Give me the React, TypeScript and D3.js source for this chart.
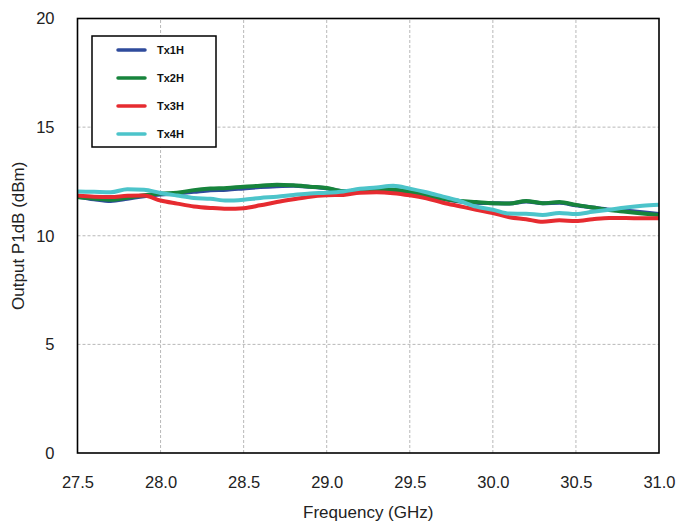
import React, { useEffect, useRef } from 'react';
import * as d3 from 'd3';

const WIDTH = 680;
const HEIGHT = 525;

// frequency points (GHz)
const freqs = [
  27.5, 27.6, 27.7, 27.8, 27.9, 28.0, 28.1, 28.2, 28.3, 28.4, 28.5, 28.6,
  28.7, 28.8, 28.9, 29.0, 29.1, 29.2, 29.3, 29.4, 29.5, 29.6, 29.7, 29.8,
  29.9, 30.0, 30.1, 30.2, 30.3, 30.4, 30.5, 30.6, 30.7, 30.8, 30.9, 31.0,
];

const tx1H = [
  11.8, 11.68, 11.6, 11.7, 11.82, 11.9, 11.95, 12.02, 12.1, 12.12, 12.18, 12.24,
  12.28, 12.3, 12.25, 12.18, 12.05, 12.1, 12.12, 12.12, 12.0, 11.85, 11.7, 11.58,
  11.52, 11.5, 11.48, 11.58, 11.5, 11.52, 11.4, 11.3, 11.2, 11.15, 11.08, 11.0,
];
const tx2H = [
  11.78, 11.72, 11.66, 11.75, 11.86, 11.94, 11.98, 12.1, 12.17, 12.2, 12.26, 12.3,
  12.35, 12.32, 12.26, 12.2, 12.05, 12.1, 12.12, 12.12, 12.02, 11.86, 11.7, 11.6,
  11.55, 11.5, 11.48, 11.6, 11.5, 11.55, 11.42, 11.3, 11.18, 11.1, 11.02, 10.95,
];
const tx3H = [
  11.85, 11.8, 11.78, 11.84, 11.85, 11.62, 11.48, 11.35, 11.28, 11.24, 11.27, 11.4,
  11.55, 11.68, 11.8, 11.86, 11.88, 11.98, 12.0, 11.96, 11.86, 11.72, 11.52, 11.36,
  11.2, 11.05, 10.85, 10.76, 10.64, 10.71, 10.68, 10.76, 10.82, 10.82, 10.8, 10.8,
];
const tx4H = [
  12.04, 12.02, 12.0, 12.14, 12.12, 11.97, 11.85, 11.74, 11.7, 11.62, 11.66, 11.74,
  11.8, 11.88, 11.95, 11.98, 12.04, 12.16, 12.22, 12.3, 12.17, 12.0, 11.8, 11.6,
  11.34, 11.2, 11.02, 11.01, 10.96, 11.05, 11.0, 11.1, 11.2, 11.3, 11.38, 11.43,
];

const seriesNames = ['Tx1H', 'Tx2H', 'Tx3H', 'Tx4H'];
const seriesValues = [tx1H, tx2H, tx3H, tx4H];
const seriesColors = ['#2f4b9c', '#17843c', '#e62b30', '#4cc4ca'];

const xTicks = [27.5, 28.0, 28.5, 29.0, 29.5, 30.0, 30.5, 31.0];
const yTicks = [0, 5, 10, 15, 20];

const margin = { top: 18.5, right: 21, bottom: 72, left: 77.5 };

const App: React.FC = () => {
  const ref = useRef<SVGSVGElement>(null);

  useEffect(() => {
    const svg = d3.select(ref.current);
    svg.selectAll('*').remove();

    const x = d3
      .scaleLinear()
      .domain([27.5, 31.0])
      .range([margin.left, WIDTH - margin.right]);
    const y = d3
      .scaleLinear()
      .domain([0, 20])
      .range([HEIGHT - margin.bottom, margin.top]);

    const font = '"Liberation Sans", Arial, sans-serif';

    // gridlines
    const grid = svg.append('g');
    grid
      .selectAll('line.v')
      .data(xTicks.slice(1, -1))
      .join('line')
      .attr('x1', (d) => x(d))
      .attr('x2', (d) => x(d))
      .attr('y1', y(0))
      .attr('y2', y(20))
      .attr('stroke', '#b8b8b8')
      .attr('stroke-width', 1)
      .attr('stroke-dasharray', '3,2');
    grid
      .selectAll('line.h')
      .data(yTicks.slice(1, -1))
      .join('line')
      .attr('x1', x(27.5))
      .attr('x2', x(31.0))
      .attr('y1', (d) => y(d))
      .attr('y2', (d) => y(d))
      .attr('stroke', '#b8b8b8')
      .attr('stroke-width', 1)
      .attr('stroke-dasharray', '3,2');

    // axes (labels only, frame drawn separately)
    const xAxis = svg
      .append('g')
      .attr('transform', `translate(0,${y(0) + 20})`)
      .call(
        d3
          .axisBottom(x)
          .tickValues(xTicks)
          .tickSize(0)
          .tickFormat((d) => (d as number).toFixed(1))
      );
    xAxis.select('.domain').remove();
    xAxis
      .selectAll('text')
      .attr('font-family', font)
      .attr('font-size', 16.5)
      .attr('fill', '#222');

    const yAxis = svg
      .append('g')
      .attr('transform', `translate(${x(27.5) - 20},0)`)
      .call(d3.axisLeft(y).tickValues(yTicks).tickSize(0));
    yAxis.select('.domain').remove();
    yAxis
      .selectAll('text')
      .attr('font-family', font)
      .attr('font-size', 16.5)
      .attr('fill', '#222');

    // lines
    const line = d3
      .line<number>()
      .x((_, i) => x(freqs[i]))
      .y((d) => y(d))
      .curve(d3.curveMonotoneX);

    seriesValues.forEach((vals, i) => {
      svg
        .append('path')
        .datum(vals)
        .attr('fill', 'none')
        .attr('stroke', seriesColors[i])
        .attr('stroke-width', 4)
        .attr('stroke-linejoin', 'round')
        .attr('d', line);
    });

    // frame
    svg
      .append('rect')
      .attr('x', x(27.5))
      .attr('y', y(20))
      .attr('width', x(31.0) - x(27.5))
      .attr('height', y(0) - y(20))
      .attr('fill', 'none')
      .attr('stroke', '#000')
      .attr('stroke-width', 1.6);

    // axis titles
    svg
      .append('text')
      .attr('x', (x(27.5) + x(31.0)) / 2)
      .attr('y', 518)
      .attr('text-anchor', 'middle')
      .attr('font-family', font)
      .attr('font-size', 17)
      .attr('fill', '#222')
      .text('Frequency (GHz)');
    svg
      .append('text')
      .attr('transform', `translate(24,${(y(0) + y(20)) / 2}) rotate(-90)`)
      .attr('text-anchor', 'middle')
      .attr('font-family', font)
      .attr('font-size', 17)
      .attr('fill', '#222')
      .text('Output P1dB (dBm)');

    // legend
    const legend = svg.append('g');
    legend
      .append('rect')
      .attr('x', 92)
      .attr('y', 36)
      .attr('width', 124)
      .attr('height', 111)
      .attr('fill', '#fff')
      .attr('stroke', '#000')
      .attr('stroke-width', 1.5);
    seriesNames.forEach((name, i) => {
      const ly = 50 + i * 28;
      legend
        .append('line')
        .attr('x1', 118)
        .attr('x2', 145)
        .attr('y1', ly)
        .attr('y2', ly)
        .attr('stroke', seriesColors[i])
        .attr('stroke-width', 3.5)
        .attr('stroke-linecap', 'round');
      legend
        .append('text')
        .attr('x', 157)
        .attr('y', ly + 4)
        .attr('font-family', font)
        .attr('font-size', 11)
        .attr('font-weight', 'bold')
        .attr('fill', '#111')
        .text(name);
    });
  }, []);

  return (
    <svg
      ref={ref}
      width={WIDTH}
      height={HEIGHT}
      style={{ position: 'fixed', left: 0, top: 0, background: '#fff' }}
    />
  );
};

export default App;
